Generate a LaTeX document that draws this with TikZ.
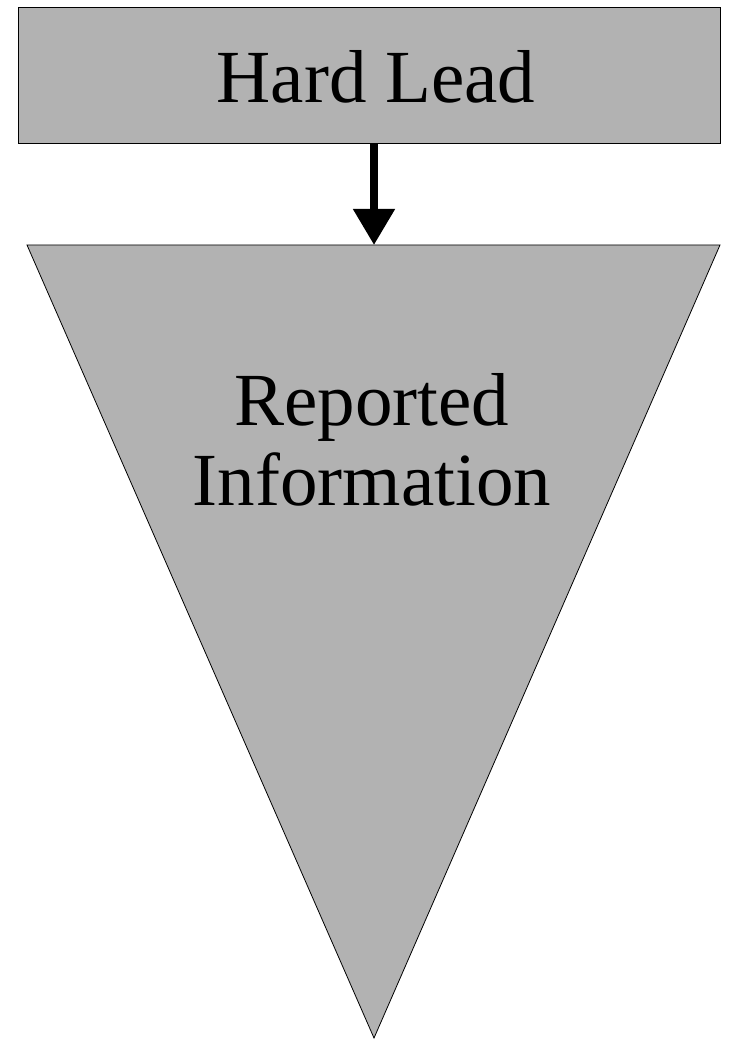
\documentclass[tikz,border=0pt]{standalone}
\usepackage{fontspec}
\setmainfont{Liberation Serif}
\usetikzlibrary{arrows.meta}
\begin{document}
\begin{tikzpicture}[x=1pt,y=-1pt,
  boxstyle/.style={draw=black, line width=0.8pt, fill=black!30},
  labelstyle/.style={font=\fontsize{75}{75}\selectfont, align=center, inner sep=0pt},
  flowarrow/.style={line width=8pt, -{Triangle[length=36pt,width=40pt]}}]
\useasboundingbox (0,0) rectangle (738,1040);
\node[boxstyle, minimum width=702pt, minimum height=136pt, inner sep=0pt] (hard) at (369,75) {};
\node[labelstyle, anchor=base] (hardtext) at (376,103) {Hard Lead};
\coordinate (tl) at (27,245);
\coordinate (tr) at (720,245);
\coordinate (apex) at (374,1038);
\coordinate (tritop) at (374,245);
\draw[boxstyle] (tl) -- (tr) -- (apex) -- cycle;
\node[labelstyle, anchor=base] (rep) at (372,425) {Reported};
\node[labelstyle, anchor=base] (info) at (372,505) {Information};
\draw[flowarrow] (hard.south -| tritop) -- (tritop);
\end{tikzpicture}
\end{document}
